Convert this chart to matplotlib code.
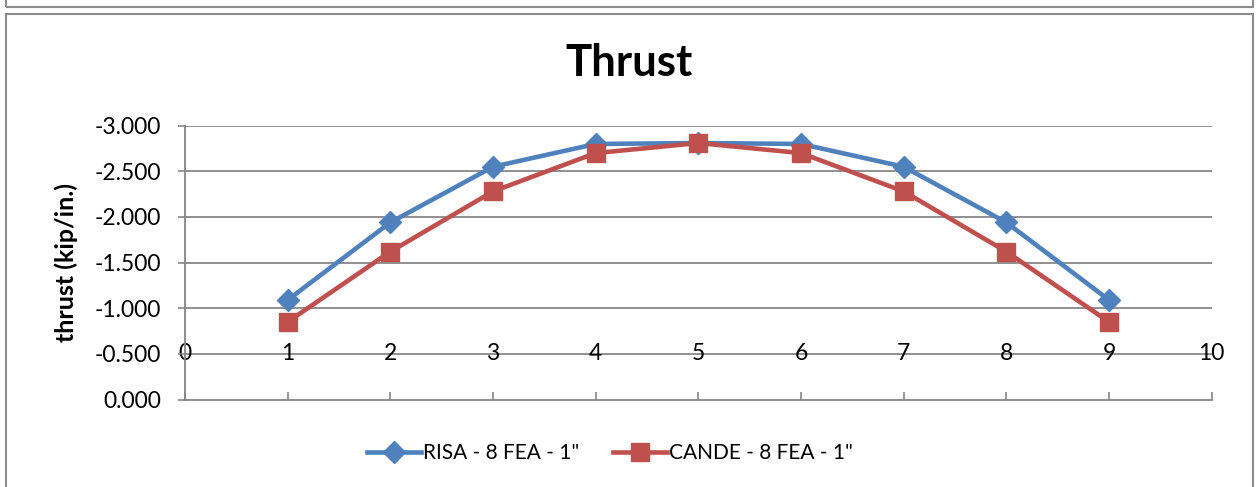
import matplotlib.pyplot as plt
from matplotlib.patches import Rectangle

# dados
pontos = [1, 2, 3, 4, 5, 6, 7, 8, 9]
risa = [-1.09, -1.94, -2.55, -2.80, -2.81, -2.80, -2.55, -1.94, -1.09]
cande = [-0.85, -1.62, -2.28, -2.70, -2.81, -2.70, -2.28, -1.62, -0.85]
xticks = list(range(0, 11))
yticks = [0.0, -0.5, -1.0, -1.5, -2.0, -2.5, -3.0]
nomes = ['RISA - 8 FEA - 1"', 'CANDE - 8 FEA - 1"']

plt.rcParams['font.family'] = ['Lato', 'DejaVu Sans']

fig = plt.figure(figsize=(12.57, 4.87), dpi=100)
W, H = 1257, 487

# bordas: caixa do grafico e fundo da caixa anterior
fig.patches.append(Rectangle((6 / W, -0.1), 1247 / W, (H - 14) / H + 0.1, transform=fig.transFigure,
                             fill=False, edgecolor='#8c8c8c', linewidth=1.5))
fig.patches.append(Rectangle((6 / W, 1 - 7 / H), 1247 / W, 0.2, transform=fig.transFigure,
                             fill=False, edgecolor='#8c8c8c', linewidth=1.5))

ax = fig.add_axes([185 / W, 1 - 399.5 / H, (1211.7 - 185) / W, (399.5 - 125.7) / H])

ax.plot(pontos, risa, color='#4F81BD', linewidth=3.3, marker='D', markersize=11, label=nomes[0])
ax.plot(pontos, cande, color='#C0504D', linewidth=3.3, marker='s', markersize=13, label=nomes[1])

ax.set_xlim(0, 10)
ax.set_ylim(0, -3)
ax.set_yticks(yticks)
ax.set_yticklabels([f'{v:.3f}' for v in yticks], fontsize=16.5)
ax.set_xticks(xticks)
ax.set_xticklabels([])
# rotulos do eixo x ficam na linha de -0.5
for x in xticks:
    ax.text(x, -0.5, str(x), ha='center', va='center', fontsize=16.5, zorder=1)

ax.tick_params(axis='x', direction='in', length=6, width=1.2, color='#868686')
ax.tick_params(axis='y', direction='out', length=5, width=1.2, color='#868686', pad=12)
for y in yticks[1:]:
    ax.axhline(y, color='#878787', linewidth=1.3, zorder=0)
for lado in ['top', 'right']:
    ax.spines[lado].set_visible(False)
for lado in ['left', 'bottom']:
    ax.spines[lado].set_color('#868686')
    ax.spines[lado].set_linewidth(1.3)

ax.set_ylabel('thrust (kip/in.)', fontsize=18, fontweight='bold', labelpad=12)
fig.text(0.5, 1 - 63 / H, 'Thrust', ha='center', va='center', fontsize=31.5, fontweight='bold')

fig.legend(loc='center', bbox_to_anchor=(610 / W, 1 - 453 / H), ncol=2, frameon=False, fontsize=15,
           handlelength=2.6, handletextpad=0.1, columnspacing=1.6)

fig.savefig('out.png', dpi=100)
